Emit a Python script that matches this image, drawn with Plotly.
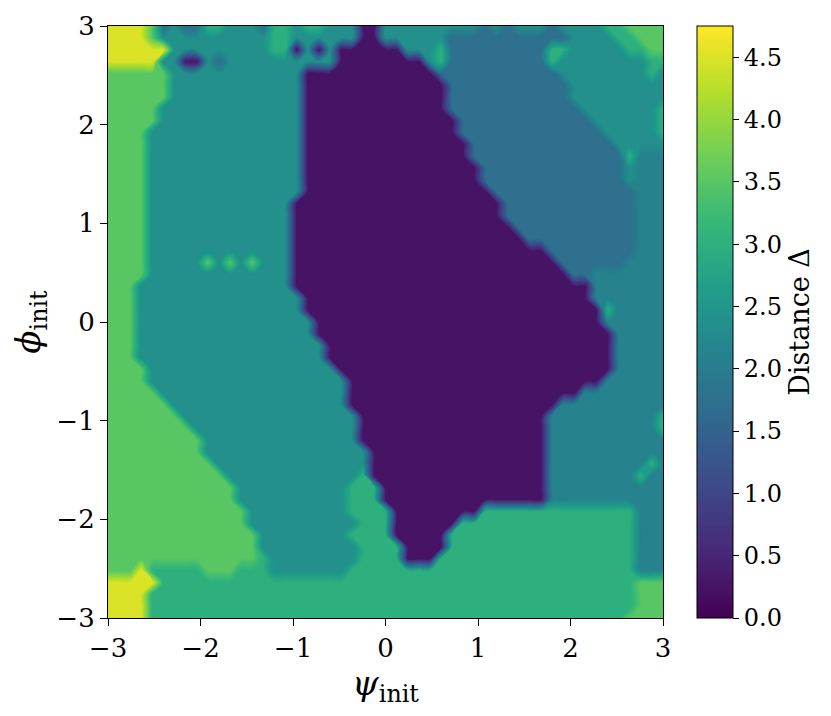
import numpy as np
import plotly.graph_objects as go

# grid: 51 x 51 points, psi and phi from -3 to 3 (step 0.12)
psi_start, psi_step = -3.0, 0.12
phi_start, phi_step = -3.0, 0.12

# distance value of each region class
class_value = {"P": 0.25, "B": 1.75, "D": 2.125, "T": 2.375,
               "G": 3.0, "L": 3.5, "Y": 4.5}

# rows from phi = 3 (top) to phi = -3 (bottom); runs "class + last column"
grid_rows = [
    "Y3 L4 B5 T6 B8 G10 T13 B14 G16 T17 G19 T22 P24 T33 B34 T35 B36 T39 B40 T44 G46 L50",
    "Y3 L4 T14 G16 T22 P24 T30 B41 T45 G47 L50",
    "Y5 T14 G16 P17 T18 P19 T20 P26 T29 G30 B39 G41 T46 G48 L50",
    "Y4 T6 P8 T9 B10 T20 P28 T29 G30 B39 G40 T48 G50",
    "L5 T17 P29 B40 T48 G49 T50",
    "L5 T17 P30 B41 T50",
    "L5 T17 P30 B41 T50",
    "L4 T17 P30 B42 T49 G50",
    "L4 T17 P31 B43 T49 G50",
    "L3 T17 P31 B44 T49 G50",
    "L3 T17 P32 B45 T50",
    "L3 T17 P32 B46 G47 D50",
    "L3 T17 P33 B46 T47 D50",
    "L3 T17 P33 B46 T47 D50",
    "L3 T17 P34 B47 D50",
    "L3 T16 P35 B47 D50",
    "L3 T16 P35 B47 D50",
    "L3 T16 P36 B47 D50",
    "L3 T16 P37 B47 D50",
    "L3 T16 P39 B47 D50",
    "L3 T8 L9 T10 L11 T12 L13 T16 P40 B46 D50",
    "L3 T16 P41 B43 D50",
    "L2 T16 P43 D50",
    "L2 T17 P43 D50",
    "L2 T17 P44 G45 D50",
    "L2 T18 P44 D50",
    "L2 T18 P45 D50",
    "L2 T19 P45 D50",
    "L2 T19 P45 D50",
    "L3 T20 P45 D50",
    "L3 T21 P44 D50",
    "L4 T21 P42 D50",
    "L5 T21 P40 D50",
    "L6 T22 P39 D49 G50",
    "L7 T22 P39 D49 G50",
    "L8 T22 P39 D50",
    "L8 T23 P39 D50",
    "L9 T23 P39 D48 G49 D50",
    "L10 T22 G23 P39 D47 G48 D50",
    "L11 T21 G24 P39 D50",
    "L11 T21 G24 P39 D50",
    "L12 T21 G25 P33 G47 D50",
    "L12 T22 G25 P31 G47 D50",
    "L13 T21 G25 P30 G47 D50",
    "L13 T22 G26 P30 G47 D50",
    "L13 G14 T22 G26 P29 G47 D50",
    "L2 Y3 G8 L11 G14 T21 G47 D50",
    "Y4 G47 L50",
    "Y3 G47 L50",
    "Y3 G47 L50",
    "Y3 G46 L50",
]

cbar_ticks = [0.0, 0.5, 1.0, 1.5, 2.0, 2.5, 3.0, 3.5, 4.0, 4.5]
axis_ticks = [-3, -2, -1, 0, 1, 2, 3]


def expand(row):
    out = []
    for run in row.split():
        cls, last = run[0], int(run[1:])
        out += [class_value[cls]] * (last + 1 - len(out))
    assert len(out) == 51, row
    return out


z = np.array([expand(r) for r in grid_rows])[::-1]

font_family = "DejaVu Serif"

fig = go.Figure(go.Contour(
    z=z,
    x0=psi_start, dx=psi_step,
    y0=phi_start, dy=phi_step,
    colorscale="Viridis",
    autocontour=False,
    contours=dict(start=0.0125, end=4.7375, size=0.025,
                  coloring="fill", showlines=False),
    line=dict(width=0),
    colorbar=dict(
        thickness=36, len=592, lenmode="pixels",
        x=1.061, xanchor="left", xpad=0, ypad=0, y=0.5, yanchor="middle",
        outlinewidth=1, outlinecolor="black",
        ticks="outside", ticklen=6, tickwidth=1.2, tickcolor="black",
        tickvals=cbar_ticks, ticktext=["%.1f" % t for t in cbar_ticks],
        tickfont=dict(family=font_family, size=24, color="black"),
        title=dict(text="Distance Δ", side="right",
                   font=dict(family=font_family, size=27, color="black")),
    ),
))

axis_style = dict(
    range=[-3, 3], tickvals=axis_ticks,
    ticks="outside", ticklen=7, tickwidth=1.2, tickcolor="black",
    showline=True, linecolor="black", linewidth=1.2, mirror=True,
    showgrid=False, zeroline=False, automargin=False,
    tickfont=dict(family=font_family, size=26, color="black"),
)

fig.update_layout(
    width=831, height=716,
    margin=dict(l=100, r=176, t=18, b=106, autoexpand=False),
    paper_bgcolor="white", plot_bgcolor="white",
    xaxis=dict(axis_style, title=dict(text="<i>ψ</i><sub>init</sub>",
                                      font=dict(family=font_family, size=34, color="black"),
                                      standoff=4)),
    yaxis=dict(axis_style, title=dict(text="<i>ϕ</i><sub>init</sub>",
                                      font=dict(family=font_family, size=34, color="black"),
                                      standoff=6)),
)

fig.write_html("out.html")
